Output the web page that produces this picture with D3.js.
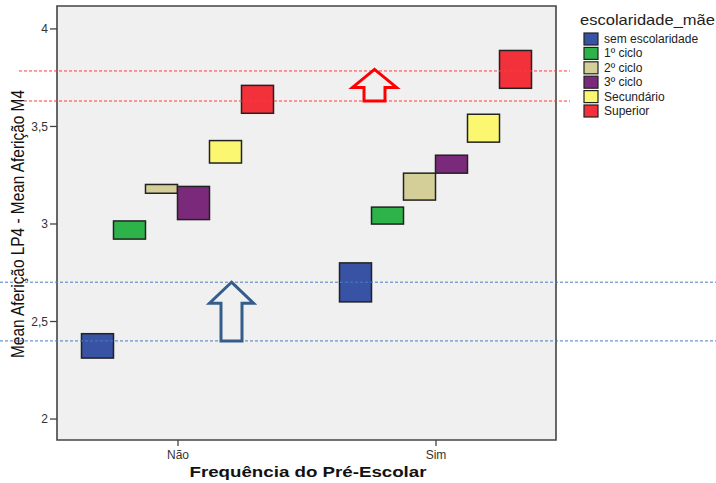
<!DOCTYPE html>
<html>
<head>
<meta charset="utf-8">
<script src="https://cdn.jsdelivr.net/npm/d3@7"></script>
<style>
  body { margin: 0; background: #fff; }
  text { font-family: 'Liberation Sans', Arial, sans-serif; }
</style>
</head>
<body>
<script>
var width = 716
var height = 483

// data
var groups = ['Não', 'Sim']
var levels = ['sem escolaridade', '1º ciclo', '2º ciclo', '3º ciclo', 'Secundário', 'Superior']
var colors = ['#3953a4', '#2db34a', '#d4cf98', '#7b2a7b', '#fbf771', '#f2313b']
// low / high of each box, per group (same order as levels)
var lowNao = [2.31, 2.92, 3.155, 3.02, 3.31, 3.565]
var highNao = [2.435, 3.013, 3.20, 3.19, 3.425, 3.708]
var lowSim = [2.598, 2.997, 3.12, 3.258, 3.417, 3.693]
var highSim = [2.798, 3.084, 3.258, 3.35, 3.56, 3.887]
var yTicks = [2, 2.5, 3, 3.5, 4]
var redLines = [3.782, 3.628]
var blueLines = [2.699, 2.398]

var margin = { left: 57, top: 6, right: 556, bottom: 440 }

var svg = d3.select('body').append('svg')
  .attr('width', width)
  .attr('height', height)

var x = d3.scalePoint()
  .domain(groups)
  .range([margin.left, margin.right])
  .padding(0.467)

var inner = d3.scaleBand()
  .domain(levels)
  .range([-96, 96])

var y = d3.scaleLinear()
  .domain([1.89, 4.115])
  .range([margin.bottom, margin.top])

// plot background
svg.append('rect')
  .attr('x', margin.left)
  .attr('y', margin.top)
  .attr('width', margin.right - margin.left)
  .attr('height', margin.bottom - margin.top)
  .style('fill', '#f0f0f0')

// boxes
var boxes = []
groups.forEach(function(g, gi) {
  var lo = gi === 0 ? lowNao : lowSim
  var hi = gi === 0 ? highNao : highSim
  levels.forEach(function(l, li) {
    boxes.push({ group: g, level: l, low: lo[li], high: hi[li], fill: colors[li] })
  })
})

svg.selectAll('rect.box')
  .data(boxes)
  .enter()
  .append('rect')
  .attr('class', 'box')
  .attr('x', function(d) { return x(d.group) + inner(d.level) })
  .attr('y', function(d) { return y(d.high) })
  .attr('width', inner.bandwidth())
  .attr('height', function(d) { return y(d.low) - y(d.high) })
  .style('fill', function(d) { return d.fill })
  .style('stroke', '#222')
  .style('stroke-width', 1.5)

// frame
svg.append('path')
  .attr('d', 'M' + margin.left + ',' + margin.top + 'H' + margin.right + 'V' + margin.bottom + 'H' + margin.left + 'Z')
  .style('fill', 'none')
  .style('stroke', '#444')
  .style('stroke-width', 1.6)

// y axis
var yAxis = svg.append('g')
  .attr('transform', 'translate(' + margin.left + ',0)')
  .call(d3.axisLeft(y).tickValues(yTicks).tickSize(7).tickPadding(2)
    .tickFormat(function(d) { return String(d).replace('.', ',') }))
yAxis.select('.domain').remove()
yAxis.selectAll('line').style('stroke', '#444').style('stroke-width', 1.3)
yAxis.selectAll('text').style('font-size', '12px').style('fill', '#333').attr('dy', '0.35em')

// x axis
var xAxis = svg.append('g')
  .attr('transform', 'translate(0,' + margin.bottom + ')')
  .call(d3.axisBottom(x).tickSize(6).tickPadding(4))
xAxis.select('.domain').remove()
xAxis.selectAll('line').style('stroke', '#444').style('stroke-width', 1.3)
xAxis.selectAll('text').style('font-size', '12px').style('fill', '#333')

// reference lines
svg.selectAll('line.red')
  .data(redLines)
  .enter()
  .append('line')
  .attr('x1', 19)
  .attr('x2', 570)
  .attr('y1', function(d) { return y(d) })
  .attr('y2', function(d) { return y(d) })
  .style('stroke', '#ff3b3b')
  .style('stroke-width', 1)
  .style('stroke-dasharray', '3,2')

svg.selectAll('line.blue')
  .data(blueLines)
  .enter()
  .append('line')
  .attr('x1', 0)
  .attr('x2', width)
  .attr('y1', function(d) { return y(d) })
  .attr('y2', function(d) { return y(d) })
  .style('stroke', '#4a7cc4')
  .style('stroke-width', 1)
  .style('stroke-dasharray', '3,2')

// up arrows between the reference lines
var arrows = [
  { group: 'Não', dx: 54, from: blueLines[1], to: blueLines[0], head: 21, color: '#355d8c' },
  { group: 'Sim', dx: -61, from: redLines[1], to: 3.79, head: 18, color: '#ff0000' }
]
svg.selectAll('path.arrow')
  .data(arrows)
  .enter()
  .append('path')
  .attr('d', function(d) {
    var cx = x(d.group) + d.dx
    var tip = y(d.to), bot = y(d.from), wing = tip + d.head
    return 'M' + cx + ',' + tip +
      'L' + (cx + 22) + ',' + wing + 'H' + (cx + 10.5) + 'V' + bot +
      'H' + (cx - 10.5) + 'V' + wing + 'H' + (cx - 22) + 'Z'
  })
  .style('fill', 'none')
  .style('stroke', function(d) { return d.color })
  .style('stroke-width', 3)

// axis titles
svg.append('text')
  .attr('transform', 'translate(24,224) rotate(-90)')
  .attr('text-anchor', 'middle')
  .attr('textLength', 268)
  .attr('lengthAdjust', 'spacingAndGlyphs')
  .style('font-size', '18px')
  .style('fill', '#111')
  .text('Mean Aferição LP4 - Mean Aferição M4')

svg.append('text')
  .attr('x', 308)
  .attr('y', 477)
  .attr('text-anchor', 'middle')
  .attr('textLength', 237)
  .attr('lengthAdjust', 'spacingAndGlyphs')
  .style('font-size', '14.5px')
  .style('font-weight', 'bold')
  .style('fill', '#111')
  .text('Frequência do Pré-Escolar')

// legend
var legend = svg.append('g').attr('transform', 'translate(580,0)')
legend.append('text')
  .attr('x', 0)
  .attr('y', 25)
  .attr('textLength', 135)
  .attr('lengthAdjust', 'spacingAndGlyphs')
  .style('font-size', '15px')
  .style('fill', '#222')
  .text('escolaridade_mãe')

var item = legend.selectAll('g.item')
  .data(levels)
  .enter()
  .append('g')
  .attr('transform', function(d, i) { return 'translate(4,' + (33 + i * 14.4) + ')' })
item.append('rect')
  .attr('width', 14)
  .attr('height', 12)
  .style('fill', function(d, i) { return colors[i] })
  .style('stroke', '#222')
  .style('stroke-width', 1.2)
item.append('text')
  .attr('x', 20)
  .attr('y', 10)
  .style('font-size', '12px')
  .style('fill', '#222')
  .text(function(d) { return d })
</script>
</body>
</html>
